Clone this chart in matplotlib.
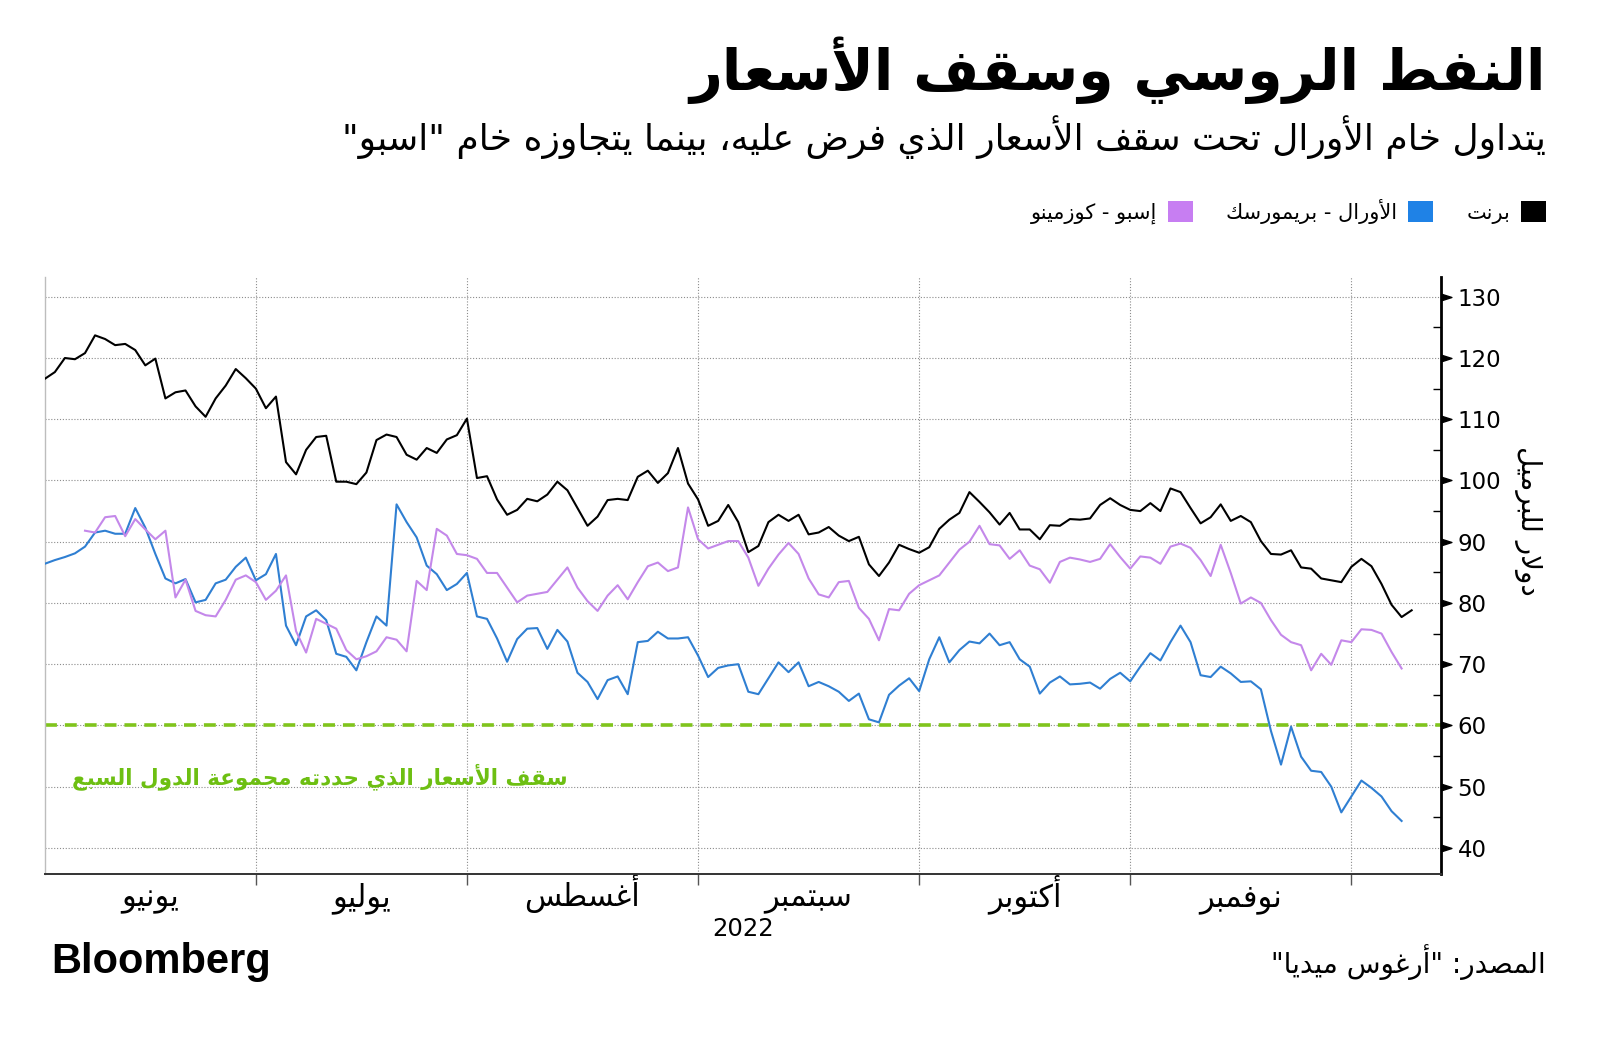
import re
import numpy as np
import pandas as pd
import matplotlib
matplotlib.use('Agg')
import matplotlib.pyplot as plt
import matplotlib.transforms as mtransforms
from matplotlib.patches import Patch

plt.rcParams['font.family'] = ['DejaVu Sans']

# ---- data (USD per barrel, business days from 1 Jun 2022) ----
start_date = '2022-06-01'

brent = [116.6, 117.7, 120.0, 119.8, 120.8, 123.7, 123.1, 122.1, 122.3, 121.3,
         118.8, 119.9, 113.4, 114.4, 114.7, 112.1, 110.4, 113.4, 115.5, 118.2,
         116.7, 115.0, 111.8, 113.7, 103.0, 101.0, 105.0, 107.1, 107.3, 99.8,
         99.8, 99.4, 101.3, 106.6, 107.5, 107.1, 104.2, 103.4, 105.3, 104.5,
         106.7, 107.4, 110.1, 100.4, 100.7, 96.9, 94.4, 95.2, 97.0, 96.6,
         97.7, 99.8, 98.4, 95.5, 92.6, 94.1, 96.8, 97.0, 96.8, 100.6,
         101.6, 99.6, 101.2, 105.3, 99.5, 96.9, 92.6, 93.4, 96.0, 93.2,
         88.3, 89.3, 93.2, 94.4, 93.4, 94.4, 91.2, 91.5, 92.4, 91.0,
         90.1, 90.8, 86.3, 84.4, 86.6, 89.5, 88.8, 88.2, 89.1, 92.1,
         93.6, 94.7, 98.1, 96.5, 94.8, 92.8, 94.7, 92.0, 92.0, 90.4,
         92.7, 92.6, 93.7, 93.6, 93.8, 96.0, 97.1, 96.0, 95.2, 95.0,
         96.3, 95.0, 98.7, 98.1, 95.5, 93.0, 94.0, 96.1, 93.4, 94.2,
         93.2, 90.1, 88.0, 87.9, 88.6, 85.8, 85.6, 84.0, 83.7, 83.4,
         85.9, 87.2, 86.0, 83.1, 79.7, 77.7, 78.8]

urals = [86.4, 87.0, 87.5, 88.1, 89.2, 91.5, 91.8, 91.3, 91.3, 95.5,
         92.3, 88.0, 84.0, 83.2, 83.9, 80.1, 80.5, 83.2, 83.8, 85.9,
         87.4, 83.7, 84.7, 88.0, 76.3, 73.1, 77.8, 78.8, 77.2, 71.7,
         71.2, 69.0, 73.6, 77.8, 76.3, 96.1, 93.2, 90.7, 86.1, 84.7,
         82.1, 83.1, 84.9, 77.8, 77.4, 74.2, 70.4, 74.1, 75.8, 75.9,
         72.5, 75.6, 73.7, 68.6, 67.1, 64.3, 67.4, 68.0, 65.1, 73.6,
         73.8, 75.3, 74.2, 74.2, 74.4, 71.4, 67.9, 69.4, 69.8, 70.0,
         65.5, 65.1, 67.7, 70.3, 68.7, 70.3, 66.4, 67.1, 66.4, 65.5,
         64.0, 65.2, 61.0, 60.5, 65.0, 66.5, 67.7, 65.6, 70.8, 74.4,
         70.3, 72.3, 73.7, 73.4, 75.0, 73.1, 73.6, 70.8, 69.6, 65.2,
         67.0, 68.0, 66.7, 66.8, 67.0, 66.0, 67.6, 68.6, 67.2, 69.6,
         71.8, 70.6, 73.6, 76.3, 73.6, 68.2, 67.9, 69.6, 68.5, 67.1,
         67.2, 65.9, 59.1, 53.6, 59.8, 54.9, 52.6, 52.4, 50.0, 45.8,
         48.4, 51.0, 49.8, 48.4, 46.0, 44.4]

espo_offset = 4  # ESPO series starts 4 trading days later
espo = [91.8, 91.5, 94.0, 94.2, 90.9, 93.7, 92.0, 90.4, 91.8, 80.9,
        83.8, 78.7, 78.0, 77.8, 80.5, 83.8, 84.5, 83.4, 80.5, 82.0,
        84.5, 75.4, 71.9, 77.4, 76.6, 75.8, 72.3, 70.8, 71.3, 72.1,
        74.4, 74.0, 72.1, 83.6, 82.1, 92.1, 91.0, 88.0, 87.8, 87.2,
        84.9, 84.9, 82.5, 80.1, 81.2, 81.5, 81.8, 83.8, 85.8, 82.5,
        80.3, 78.7, 81.2, 82.9, 80.6, 83.4, 86.0, 86.6, 85.2, 85.8,
        95.6, 90.4, 88.9, 89.5, 90.1, 90.1, 87.4, 82.8, 85.6, 87.9,
        89.8, 88.0, 84.0, 81.4, 80.9, 83.4, 83.6, 79.2, 77.4, 73.9,
        79.0, 78.8, 81.5, 82.9, 83.7, 84.5, 86.6, 88.7, 90.0, 92.6,
        89.6, 89.4, 87.2, 88.6, 86.1, 85.5, 83.3, 86.7, 87.4, 87.1,
        86.7, 87.2, 89.6, 87.5, 85.6, 87.6, 87.4, 86.4, 89.2, 89.7,
        89.0, 87.0, 84.4, 89.5, 84.9, 79.9, 80.9, 80.0, 77.2, 74.8,
        73.6, 73.1, 69.0, 71.7, 69.9, 73.9, 73.6, 75.7, 75.6, 75.0,
        72.0, 69.3]

price_cap = 60
month_labels = ['يونيو', 'يوليو', 'أغسطس', 'سبتمبر', 'أكتوبر', 'نوفمبر']
year_label = '2022'
series_names = ['برنت', 'الأورال - بريمورسك', 'إسبو - كوزمينو']

title = 'النفط الروسي وسقف الأسعار'
subtitle = 'يتداول خام الأورال تحت سقف الأسعار الذي فرض عليه، بينما يتجاوزه خام "اسبو"'
cap_note = 'سقف الأسعار الذي حددته مجموعة الدول السبع'
ylabel = 'دولار للبرميل'
source = 'المصدر: "أرغوس ميديا"'


# ---- minimal Arabic shaping (presentation forms) + RTL ordering ----
_four = {'ئ': 0xFE89, 'ب': 0xFE8F, 'ت': 0xFE95, 'ث': 0xFE99, 'ج': 0xFE9D,
         'ح': 0xFEA1, 'خ': 0xFEA5, 'س': 0xFEB1, 'ش': 0xFEB5, 'ص': 0xFEB9,
         'ض': 0xFEBD, 'ط': 0xFEC1, 'ظ': 0xFEC5, 'ع': 0xFEC9, 'غ': 0xFECD,
         'ف': 0xFED1, 'ق': 0xFED5, 'ك': 0xFED9, 'ل': 0xFEDD, 'م': 0xFEE1,
         'ن': 0xFEE5, 'ه': 0xFEE9, 'ي': 0xFEF1}
_two = {'آ': 0xFE81, 'أ': 0xFE83, 'ؤ': 0xFE85, 'إ': 0xFE87, 'ا': 0xFE8D,
        'ة': 0xFE93, 'د': 0xFEA9, 'ذ': 0xFEAB, 'ر': 0xFEAD, 'ز': 0xFEAF,
        'و': 0xFEED, 'ى': 0xFEEF}
FORMS = {c: (b, b + 1, b + 2, b + 3) for c, b in _four.items()}
FORMS.update({c: (b, b + 1, None, None) for c, b in _two.items()})
LAM_ALEF = {'آ': 0xFEF5, 'أ': 0xFEF7, 'إ': 0xFEF9, 'ا': 0xFEFB}


def ar(text):
    out = []
    prev_joins = False
    i = 0
    while i < len(text):
        c = text[i]
        if c not in FORMS:
            out.append(c)
            prev_joins = False
            i += 1
            continue
        nxt = text[i + 1] if i + 1 < len(text) else ''
        if c == 'ل' and nxt in LAM_ALEF:
            out.append(chr(LAM_ALEF[nxt] + (1 if prev_joins else 0)))
            prev_joins = False
            i += 2
            continue
        f = FORMS[c]
        to_next = f[2] is not None and nxt in FORMS
        if prev_joins and to_next:
            code = f[3]
        elif prev_joins:
            code = f[1]
        elif to_next:
            code = f[2]
        else:
            code = f[0]
        out.append(chr(code))
        prev_joins = f[2] is not None
        i += 1
    parts = re.findall(r'[0-9A-Za-z.]+|.', ''.join(out))
    return ''.join(reversed(parts))


# ---- positions on a trading-day axis ----
dates = pd.bdate_range(start_date, periods=len(brent))
pos = np.arange(len(dates))
months = pd.Series(pos, index=dates).groupby(dates.month)
month_end = [g.iloc[-1] for _, g in months][:-1]
month_mid = [(max(g.iloc[0] - 1, 0) + g.iloc[-1]) / 2 for _, g in months][:len(month_labels)]

c_brent = '#000000'
c_urals = '#2f7fd2'
c_espo = '#c488ea'
c_green = '#80c41c'

fig = plt.figure(figsize=(16, 10.42), dpi=100)
ax = fig.add_axes([0.028, 0.161, 0.8725, 0.573])

ax.plot(pos, brent, color=c_brent, lw=1.5, zorder=4)
ax.plot(pos[:len(urals)], urals, color=c_urals, lw=1.5, zorder=3)
ax.plot(pos[espo_offset:espo_offset + len(espo)], espo, color=c_espo, lw=1.5, zorder=3)
ax.axhline(price_cap, color=c_green, lw=2.6, dashes=(3.3, 2.2), zorder=2)

ax.text(52, 51.7, ar(cap_note), color='#6dbf12', fontsize=15.5, fontweight='bold',
        ha='right', va='center')

ax.set_xlim(0, 138.9)
ax.set_ylim(35.7, 133.2)

# y axis on the right
ax.yaxis.tick_right()
ax.set_yticks(np.arange(40, 131, 10))
ax.set_yticks(np.arange(45, 131, 10), minor=True)
ax.tick_params(axis='y', which='major', length=0, pad=12, labelsize=16.5)
ax.tick_params(axis='y', which='minor', direction='in', length=6, width=1,
               color='black', right=True, left=False)
tri = [(0, -0.32), (1, 0), (0, 0.32)]
ax.plot(np.ones(10), np.arange(40, 131, 10), ls='none', marker=tri, ms=15,
        color='black', clip_on=False,
        transform=mtransforms.blended_transform_factory(ax.transAxes, ax.transData))

# x axis
ax.set_xticks(month_end)
ax.set_xticklabels([])
ax.set_xticks(month_mid, minor=True)
ax.set_xticklabels([ar(m) for m in month_labels], minor=True)
ax.tick_params(axis='x', which='major', direction='out', length=8, width=1, color='#555555')
ax.tick_params(axis='x', which='minor', length=0, pad=23, labelsize=22)
for lab in ax.get_xticklabels(minor=True):
    lab.set_verticalalignment('baseline')
ax.text(69.5, 0.108, year_label, fontsize=17.5, ha='center', va='center',
        transform=mtransforms.blended_transform_factory(ax.transData, fig.transFigure))

ax.grid(True, which='major', color='#8c8c8c', lw=0.8, linestyle=(0, (1, 1.6)))

ax.spines['top'].set_visible(False)
ax.spines['left'].set_color('#bdbdbd')
ax.spines['left'].set_linewidth(1)
ax.spines['bottom'].set_color('#333333')
ax.spines['bottom'].set_linewidth(1.4)
ax.spines['right'].set_color('black')
ax.spines['right'].set_linewidth(2)

fig.text(0.955, 0.50, ar(ylabel), fontsize=20, rotation=270, ha='center', va='center')

# titles
fig.text(0.966, 0.933, ar(title), fontsize=41, fontweight='bold', ha='right', va='center')
fig.text(0.966, 0.868, ar(subtitle), fontsize=25.9, ha='right', va='center')

# legend (right to left)
handles = [Patch(facecolor='#c77ef2', edgecolor='none', label=ar(series_names[2])),
           Patch(facecolor='#1f82e6', edgecolor='none', label=ar(series_names[1])),
           Patch(facecolor='black', edgecolor='none', label=ar(series_names[0]))]
fig.legend(handles=handles, loc='center right', bbox_to_anchor=(0.966, 0.797), ncol=3,
           frameon=False, markerfirst=False, fontsize=15, handlelength=1.2,
           handleheight=1.2, handletextpad=0.5, columnspacing=1.6,
           borderpad=0, borderaxespad=0)

# footer
fig.text(0.032, 0.0764, 'Bloomberg', fontsize=30, fontweight='bold', ha='left', va='center',
         family=['Liberation Sans Narrow', 'Liberation Sans', 'DejaVu Sans'])
fig.text(0.966, 0.0764, ar(source), fontsize=20, ha='right', va='center')

fig.savefig('out.png', dpi=100)
